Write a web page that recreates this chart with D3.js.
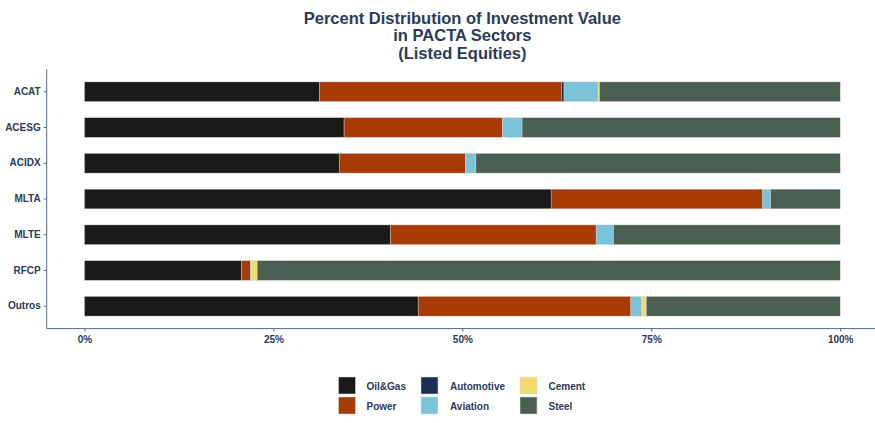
<html lang="en">
<head>
<meta charset="utf-8">
<title>Percent Distribution of Investment Value</title>
<style>
  body { margin: 0; background: white; font-family: "Liberation Sans", Helvetica, Arial, sans-serif; }
  .axis path, .axis line { stroke: #55698a; }
  .axis text { font-size: 10px; font-weight: bold; fill: #2b3b58; font-family: "Liberation Sans", Arial, sans-serif; }
  .title { font-size: 16.5px; font-weight: bold; fill: #2b3b58; }
  .legend text { font-size: 10px; font-weight: bold; fill: #2b3b58; }
</style>
</head>
<body>
<script src="https://cdnjs.cloudflare.com/ajax/libs/d3/7.8.5/d3.min.js"></script>
<script>
// portfolios, top to bottom
var portfolios = ["ACAT", "ACESG", "ACIDX", "MLTA", "MLTE", "RFCP", "Outros"];
var sectors = ["Oil&Gas", "Power", "Automotive", "Aviation", "Cement", "Steel"];
var sectorColors = ["#1b1a19", "#a83a05", "#1b3050", "#7bc3d8", "#f0dc6c", "#4b5e52"];

// percent share per sector, same order as portfolios
var oilGas     = [31.1, 34.35, 33.7, 61.75, 40.5, 20.8, 44.15];
var power      = [32.0, 20.95, 16.7, 28.0, 27.2, 1.15, 28.15];
var automotive = [0.35, 0, 0, 0, 0, 0, 0];
var aviation   = [4.5, 2.6, 1.4, 1.05, 2.3, 0.1, 1.45];
var cement     = [0.2, 0, 0, 0, 0, 0.8, 0.6];
var steel      = [31.85, 42.1, 48.2, 9.2, 30.0, 77.15, 25.65];

var xTicks = [0, 25, 50, 75, 100];

var rows = portfolios.map(function(p, i) {
  return { portfolio: p, "Oil&Gas": oilGas[i], "Power": power[i], "Automotive": automotive[i],
           "Aviation": aviation[i], "Cement": cement[i], "Steel": steel[i] };
});

var W = 875, H = 423;
var margin = { top: 69.4, right: -3, bottom: 94.4, left: 46.7 };
var width = W - margin.left - margin.right;
var height = H - margin.top - margin.bottom;

var svg = d3.select("body").append("svg")
  .attr("width", W).attr("height", H);

// title
var titleLines = ["Percent Distribution of Investment Value", "in PACTA Sectors", "(Listed Equities)"];
svg.append("g").selectAll("text").data(titleLines).enter().append("text")
  .attr("class", "title")
  .attr("x", margin.left + width / 2)
  .attr("y", function(d, i) { return 23.5 + i * 17.5; })
  .attr("text-anchor", "middle")
  .text(function(d) { return d; });

var g = svg.append("g").attr("transform", "translate(" + margin.left + "," + margin.top + ")");

// ggplot-like 5% expansion on x
var xScale = d3.scaleLinear().domain([-5, 105]).range([0, width]);
var yScale = d3.scaleBand().domain(portfolios).range([0, height]).paddingInner(0.45).paddingOuter(0.35);

var stacked = d3.stack().keys(sectors)(rows);
var color = d3.scaleOrdinal().domain(sectors).range(sectorColors);

g.selectAll("g.layer").data(stacked).enter().append("g")
  .attr("class", "layer")
  .attr("fill", function(d) { return color(d.key); })
  .selectAll("rect").data(function(d) { return d; }).enter().append("rect")
  .attr("x", function(d) { return xScale(d[0]); })
  .attr("width", function(d) { return Math.max(0, xScale(d[1]) - xScale(d[0])); })
  .attr("y", function(d) { return yScale(d.data.portfolio); })
  .attr("height", yScale.bandwidth())
  .attr("stroke", "#d8d8d8")
  .attr("stroke-width", function(d) { return d[1] - d[0] > 0 ? 0.4 : 0; });

var xAxis = d3.axisBottom(xScale).tickValues(xTicks).tickSize(3).tickPadding(4)
  .tickFormat(function(d) { return d + "%"; });
var yAxis = d3.axisLeft(yScale).tickSize(3).tickPadding(3);

g.append("g").attr("class", "x axis")
  .attr("transform", "translate(0," + height + ")")
  .call(xAxis)
  .call(function(s) { s.select(".domain").attr("d", "M0,0H" + (width + 5)); });

g.append("g").attr("class", "y axis")
  .call(yAxis)
  .call(function(s) { s.select(".domain").attr("d", "M0,0V" + height); });

// legend, filled by column (2 rows x 3 columns)
var legendX = [338.5, 421, 520];
var legendTextDx = [28, 29, 28.5];
var legend = svg.append("g").attr("class", "legend");
var items = legend.selectAll("g").data(sectors).enter().append("g")
  .attr("transform", function(d, i) {
    var col = Math.floor(i / 2), row = i % 2;
    return "translate(" + legendX[col] + "," + (377 + row * 20) + ")";
  });
items.append("rect")
  .attr("width", 17).attr("height", 17)
  .attr("fill", function(d) { return color(d); })
  .attr("stroke", "#e0e0e0").attr("stroke-width", 0.5);
items.append("text")
  .attr("x", function(d, i) { return legendTextDx[Math.floor(i / 2)]; })
  .attr("y", 9).attr("dy", "0.35em")
  .text(function(d) { return d; });
</script>
</body>
</html>
